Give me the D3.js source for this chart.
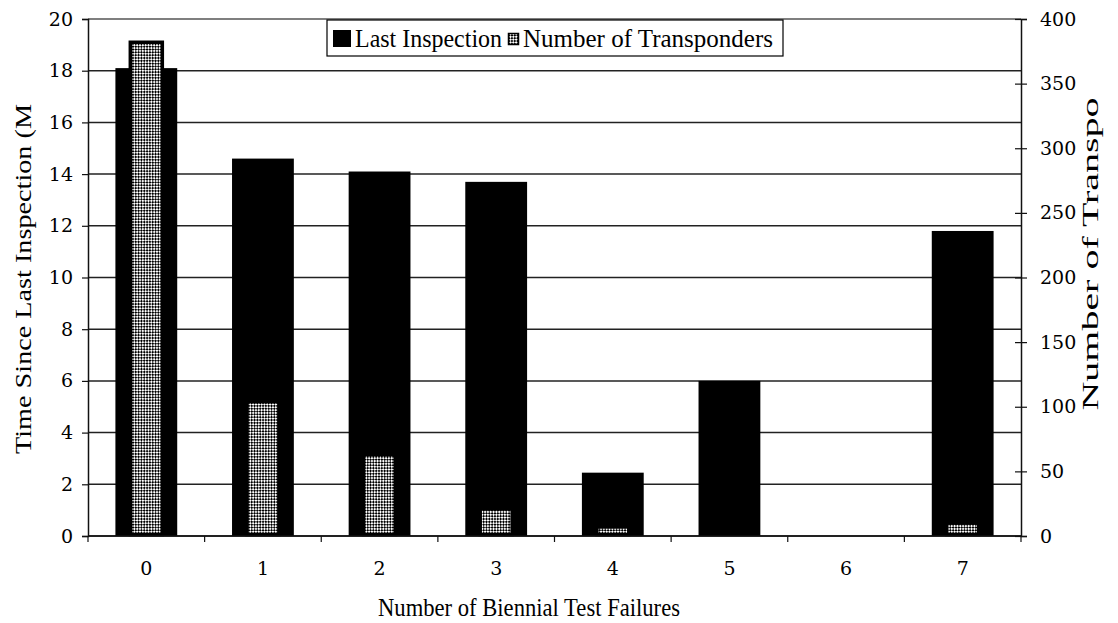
<!DOCTYPE html>
<html>
<head>
<meta charset="utf-8">
<script src="https://cdn.jsdelivr.net/npm/d3@7"></script>
<style>
  body { margin: 0; background: #fff; }
  svg text { font-family: "Liberation Serif", "Times New Roman", serif; fill: #000; }
</style>
</head>
<body>
<div id="chart"></div>
<script>
// chart data
var categories = ['0', '1', '2', '3', '4', '5', '6', '7'];
var lastInspection = [18.1, 14.6, 14.1, 13.7, 2.45, 6.0, 0, 11.8];
var transponders = [382, 104, 63, 21, 7, 0, 0, 10];
var leftTicks = [0, 2, 4, 6, 8, 10, 12, 14, 16, 18, 20];
var rightTicks = [0, 50, 100, 150, 200, 250, 300, 350, 400];
var legendLabels = ['Last Inspection', 'Number of Transponders'];

const width = 1118;
const height = 623;
const plot = { left: 88, right: 1021, top: 19, bottom: 536 };
const tickFont = '"DejaVu Serif", serif';

let svg = d3.select('#chart')
    .append('svg')
        .attr('width', width)
        .attr('height', height);

// checkered fill for the transponder bars
let defs = svg.append('defs');
let pat = defs.append('pattern')
    .attr('id', 'checker')
    .attr('patternUnits', 'userSpaceOnUse')
    .attr('width', 4)
    .attr('height', 4)
    .attr('patternTransform', 'rotate(45)');
pat.append('rect').attr('width', 4).attr('height', 4).attr('fill', '#fff');
pat.append('rect').attr('width', 2).attr('height', 2).attr('fill', '#000');
pat.append('rect').attr('x', 2).attr('y', 2).attr('width', 2).attr('height', 2).attr('fill', '#000');

// scales
const xScale = d3.scaleBand()
    .domain(categories)
    .range([plot.left, plot.right]);
const yLeft = d3.scaleLinear()
    .domain([0, 20])
    .range([plot.bottom, plot.top]);
const yRight = d3.scaleLinear()
    .domain([0, 400])
    .range([plot.bottom, plot.top]);

// horizontal gridlines
svg.append('g')
    .selectAll('line')
    .data(leftTicks)
    .enter()
    .append('line')
        .attr('x1', plot.left)
        .attr('x2', plot.right)
        .attr('y1', (d) => yLeft(d))
        .attr('y2', (d) => yLeft(d))
        .attr('stroke', (d) => d === 20 ? '#555' : '#222')
        .attr('stroke-width', 1.5);

// black bars - last inspection
const blackW = xScale.bandwidth() * 0.53;
svg.append('g')
    .selectAll('rect')
    .data(lastInspection.map((v, i) => ({ cat: categories[i], v: v })).filter((d) => d.v > 0))
    .enter()
    .append('rect')
        .attr('x', (d) => xScale(d.cat) + xScale.bandwidth() / 2 - blackW / 2)
        .attr('y', (d) => yLeft(d.v))
        .attr('width', blackW)
        .attr('height', (d) => yLeft(0) - yLeft(d.v))
        .attr('fill', '#000');

// checkered bars - number of transponders
const hatchW = 32;
svg.append('g')
    .selectAll('rect')
    .data(transponders.map((v, i) => ({ cat: categories[i], v: v })).filter((d) => d.v > 0))
    .enter()
    .append('rect')
        .attr('x', (d) => xScale(d.cat) + xScale.bandwidth() / 2 - hatchW / 2)
        .attr('y', (d) => yRight(d.v))
        .attr('width', hatchW)
        .attr('height', (d) => yRight(0) - yRight(d.v) - 1.5)
        .attr('fill', 'url(#checker)')
        .attr('stroke', '#000')
        .attr('stroke-width', 3.5);

// left axis
let gl = svg.append('g').attr('transform', `translate(${plot.left},0)`);
gl.call(d3.axisLeft(yLeft).tickValues(leftTicks).tickSize(6).tickPadding(9));
gl.select('.domain').attr('stroke', '#111').attr('stroke-width', 1.5);
gl.selectAll('.tick line').attr('stroke', '#111').attr('stroke-width', 1.2);
gl.selectAll('.tick text')
    .style('font-family', tickFont)
    .style('font-size', '19px')
    .attr('fill', '#000');

// right axis
let gr = svg.append('g').attr('transform', `translate(${plot.right},0)`);
gr.call(d3.axisRight(yRight).tickValues(rightTicks).tickSize(6).tickPadding(13));
gr.select('.domain').attr('stroke', '#111').attr('stroke-width', 1.5);
gr.selectAll('.tick line').attr('x1', -6).attr('stroke', '#111').attr('stroke-width', 1.2);
gr.selectAll('.tick text')
    .style('font-family', tickFont)
    .style('font-size', '19px')
    .attr('fill', '#000');

// bottom axis, ticks sit between the categories
let gb = svg.append('g').attr('transform', `translate(0,${plot.bottom})`);
gb.append('line')
    .attr('x1', plot.left)
    .attr('x2', plot.right)
    .attr('stroke', '#111')
    .attr('stroke-width', 1.5);
gb.selectAll('line.tk')
    .data(categories.concat(['end']))
    .enter()
    .append('line')
        .attr('class', 'tk')
        .attr('x1', (d, i) => i < categories.length ? xScale(d) : plot.right)
        .attr('x2', (d, i) => i < categories.length ? xScale(d) : plot.right)
        .attr('y1', 0)
        .attr('y2', 6)
        .attr('stroke', '#111')
        .attr('stroke-width', 1.2);
gb.selectAll('text')
    .data(categories)
    .enter()
    .append('text')
        .attr('x', (d) => xScale(d) + xScale.bandwidth() / 2)
        .attr('y', 39)
        .attr('text-anchor', 'middle')
        .style('font-family', tickFont)
        .style('font-size', '19px')
        .text((d) => d);

// axis titles
svg.append('text')
    .attr('x', 529)
    .attr('y', 616)
    .attr('text-anchor', 'middle')
    .attr('textLength', 302)
    .attr('lengthAdjust', 'spacingAndGlyphs')
    .style('font-size', '25px')
    .text('Number of Biennial Test Failures');

svg.append('text')
    .attr('transform', 'translate(31,279) rotate(-90)')
    .attr('text-anchor', 'middle')
    .attr('textLength', 350)
    .attr('lengthAdjust', 'spacingAndGlyphs')
    .style('font-size', '24px')
    .text('Time Since Last Inspection (M');

svg.append('text')
    .attr('transform', 'translate(1098,254) rotate(-90)')
    .attr('text-anchor', 'middle')
    .attr('textLength', 313)
    .attr('lengthAdjust', 'spacingAndGlyphs')
    .style('font-size', '24px')
    .text('Number of Transpo');

// legend
let lg = svg.append('g');
lg.append('rect')
    .attr('x', 327)
    .attr('y', 20)
    .attr('width', 456)
    .attr('height', 36)
    .attr('fill', '#fff')
    .attr('stroke', '#000')
    .attr('stroke-width', 1.2);
lg.append('rect')
    .attr('x', 333).attr('y', 30).attr('width', 18).attr('height', 17)
    .attr('fill', '#000');
lg.append('rect')
    .attr('x', 508.5).attr('y', 33.5).attr('width', 10).attr('height', 11)
    .attr('fill', 'url(#checker)')
    .attr('stroke', '#000')
    .attr('stroke-width', 1.5);
lg.append('text')
    .attr('x', 355).attr('y', 47)
    .attr('textLength', 147)
    .attr('lengthAdjust', 'spacingAndGlyphs')
    .style('font-size', '25px')
    .text(legendLabels[0]);
lg.append('text')
    .attr('x', 523).attr('y', 47)
    .attr('textLength', 250)
    .attr('lengthAdjust', 'spacingAndGlyphs')
    .style('font-size', '25px')
    .text(legendLabels[1]);
</script>
</body>
</html>
